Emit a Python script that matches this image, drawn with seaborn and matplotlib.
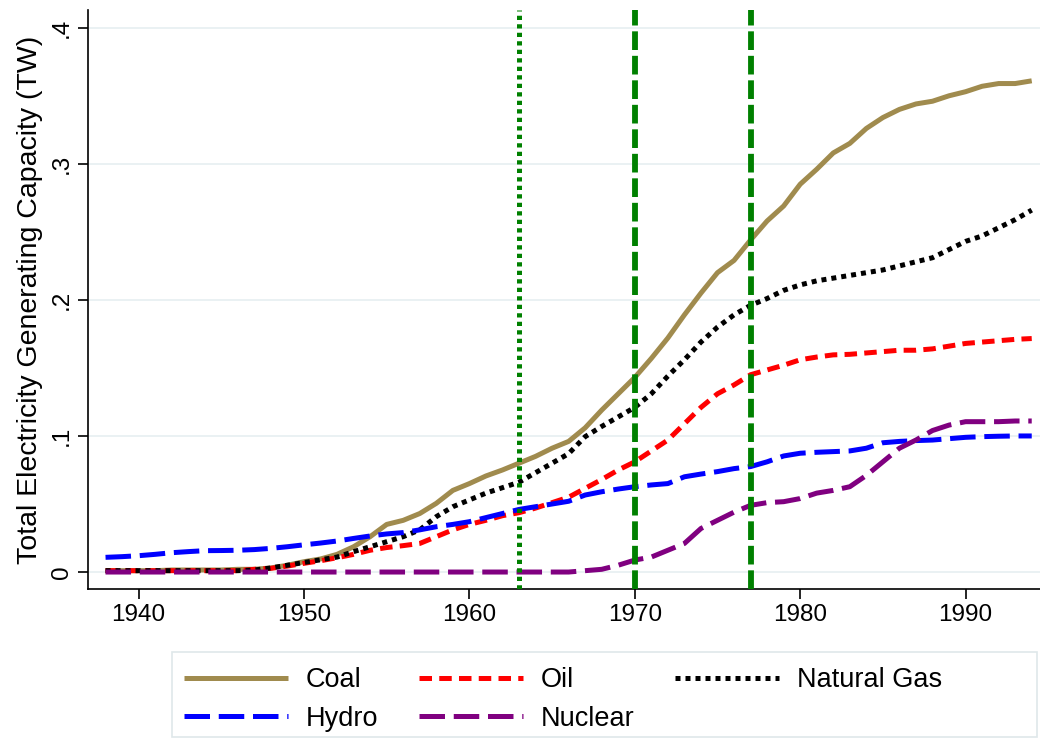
import numpy as np
import pandas as pd
import matplotlib
matplotlib.use("Agg")
import matplotlib.pyplot as plt
from matplotlib.patches import Rectangle
import seaborn as sns

years = list(range(1938, 1995))

coal = [0.001, 0.001, 0.001, 0.001, 0.0015, 0.0015, 0.0015, 0.0015, 0.002, 0.002,
        0.003, 0.005, 0.0076, 0.0096, 0.013, 0.0186, 0.026, 0.035, 0.038, 0.043,
        0.0505, 0.060, 0.065, 0.0706, 0.075, 0.080, 0.085, 0.091, 0.096, 0.106,
        0.119, 0.131, 0.143, 0.157, 0.172, 0.189, 0.205, 0.220, 0.229, 0.244,
        0.258, 0.269, 0.285, 0.296, 0.308, 0.315, 0.326, 0.334, 0.340, 0.344,
        0.346, 0.350, 0.353, 0.357, 0.359, 0.359, 0.361]

oil = [0.001] * 9 + [0.002, 0.0027, 0.0044, 0.0064, 0.0083, 0.0105, 0.013, 0.016,
       0.018, 0.0194, 0.021, 0.026, 0.031, 0.035, 0.038, 0.0414, 0.0436, 0.047,
       0.051, 0.055, 0.0615, 0.068, 0.075, 0.081, 0.089, 0.097, 0.109, 0.121,
       0.131, 0.1375, 0.145, 0.1485, 0.152, 0.156, 0.158, 0.1596, 0.160, 0.161,
       0.162, 0.163, 0.163, 0.164, 0.166, 0.168, 0.169, 0.170, 0.171, 0.1716]

gas = [0.001] * 9 + [0.0015, 0.003, 0.005, 0.007, 0.009, 0.011, 0.015, 0.0186,
       0.0223, 0.026, 0.031, 0.0407, 0.048, 0.053, 0.058, 0.062, 0.066, 0.073,
       0.080, 0.087, 0.0995, 0.107, 0.114, 0.121, 0.131, 0.144, 0.156, 0.169,
       0.180, 0.189, 0.196, 0.201, 0.207, 0.211, 0.214, 0.216, 0.218, 0.220,
       0.222, 0.225, 0.228, 0.231, 0.237, 0.243, 0.247, 0.253, 0.259, 0.266]

hydro = [0.0108, 0.0113, 0.012, 0.013, 0.0142, 0.015, 0.0157, 0.0158, 0.016, 0.0165,
         0.0174, 0.0186, 0.020, 0.0213, 0.0228, 0.0247, 0.0265, 0.028, 0.029, 0.031,
         0.0333, 0.035, 0.037, 0.040, 0.043, 0.046, 0.048, 0.050, 0.052, 0.0566,
         0.059, 0.061, 0.0627, 0.064, 0.065, 0.070, 0.072, 0.0738, 0.076, 0.0775,
         0.081, 0.0853, 0.0873, 0.088, 0.0885, 0.089, 0.091, 0.095, 0.096, 0.0966,
         0.097, 0.098, 0.099, 0.0995, 0.0998, 0.100, 0.100]

nuclear = [0.0] * 29 + [0.001, 0.002, 0.005, 0.0088, 0.011, 0.016, 0.021, 0.032,
           0.038, 0.044, 0.049, 0.051, 0.0517, 0.054, 0.058, 0.060, 0.0627, 0.071,
           0.081, 0.091, 0.097, 0.104, 0.108, 0.1105, 0.1105, 0.1105, 0.111, 0.111]

event_years = [1963, 1970, 1977]
yticks = [0, 0.1, 0.2, 0.3, 0.4]
ytick_labels = ["0", ".1", ".2", ".3", ".4"]
xticks = [1940, 1950, 1960, 1970, 1980, 1990]

sns.set_style("white")
plt.rcParams["font.family"] = ["Liberation Sans", "DejaVu Sans"]
plt.rcParams["text.color"] = "black"
plt.rcParams["axes.labelcolor"] = "black"
plt.rcParams["xtick.color"] = "black"
plt.rcParams["ytick.color"] = "black"

fig = plt.figure(figsize=(10.4, 7.4), dpi=100)
ax = fig.add_axes([0.0843, 0.204, 0.9157, 0.7824])

LW = 3.6
series = [
    ("Coal", coal, "#a08b4e", None),
    ("Oil", oil, "#ff0000", (2.5, 1.45)),
    ("Natural Gas", gas, "#000000", (1.0, 1.0)),
    ("Hydro", hydro, "#0000ff", (5.1, 1.75)),
    ("Nuclear", nuclear, "#800080", (5.1, 1.75)),
]

handles = {}
for name, vals, col, dash in series:
    df = pd.DataFrame({"year": years, "val": vals})
    sns.lineplot(data=df, x="year", y="val", color=col, linewidth=LW, ax=ax,
                 legend=False)
    line = ax.get_lines()[-1]
    if dash is not None:
        line.set_dashes(dash)
    line.set_dash_capstyle("butt")
    line.set_solid_capstyle("butt")
    line.set_label(name)
    handles[name] = line

ax.axvline(event_years[0], color="#008000", linewidth=3.6, dashes=(0.85, 0.85), zorder=5)
for ey in event_years[1:]:
    ax.axvline(ey, color="#008000", linewidth=4.2, dashes=(3.2, 1.0), zorder=5)

ax.set_xlim(1936.92, 1994.5)
ax.set_ylim(-0.0125, 0.413)
ax.set_yticks(yticks)
ax.set_yticklabels(ytick_labels, rotation=90, va="center")
ax.set_xticks(xticks)
ax.yaxis.grid(True, color="#e6eff1", linewidth=1.2)
ax.xaxis.grid(False)
for s in ["top", "right"]:
    ax.spines[s].set_visible(False)
for s in ["left", "bottom"]:
    ax.spines[s].set_color("black")
    ax.spines[s].set_linewidth(1.2)
ax.tick_params(axis="both", which="major", direction="out", length=7, width=1.2,
               labelsize=17.5, color="black", labelcolor="black", bottom=True, left=True)
ax.set_xlabel("")
ax.set_ylabel("Total Electricity Generating Capacity (TW)", fontsize=20.5, labelpad=6,
              color="black")

# legend: filled column-wise, so this order gives rows Coal/Oil/Gas and Hydro/Nuclear
order = ["Coal", "Hydro", "Oil", "Nuclear", "Natural Gas"]
leg = fig.legend([handles[n] for n in order], order, ncol=3,
                 loc="upper left", bbox_to_anchor=(0.1769, 0.098),
                 fontsize=19.5, frameon=False, handlelength=3.85,
                 handletextpad=0.65, columnspacing=1.5, labelspacing=0.45,
                 borderaxespad=0.0, borderpad=0.0, labelcolor="black")
fig.patches.append(Rectangle((0.1654, 0.004), 0.8317, 0.1149, transform=fig.transFigure,
                             fill=False, edgecolor="#dfe8ea", linewidth=1.2))

fig.savefig("out.png", dpi=100)
